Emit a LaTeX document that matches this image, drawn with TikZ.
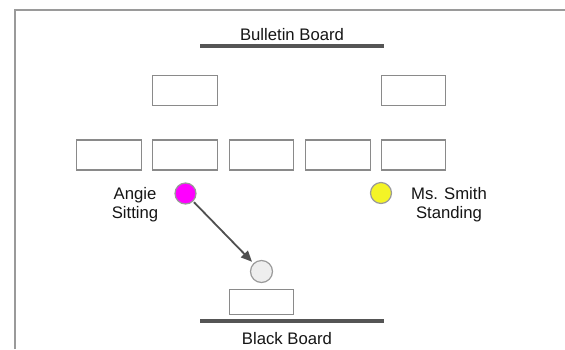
\documentclass[tikz,border=0pt]{standalone}
\usepackage{fontspec}
\setmainfont{Liberation Sans}
\usetikzlibrary{arrows.meta}
\definecolor{deskc}{HTML}{8A8A8A}
\definecolor{framec}{HTML}{9A9A9A}
\definecolor{boardc}{HTML}{555555}
\definecolor{txtc}{HTML}{151515}
\definecolor{magentac}{HTML}{FF00FF}
\definecolor{yellowc}{HTML}{F4F426}
\definecolor{grayfill}{HTML}{EEEEEE}
\definecolor{arrowc}{HTML}{505050}
\tikzset{
  desk/.style={draw=deskc, line width=1.4pt, fill=white, inner sep=0pt,
    minimum width=64.5pt, minimum height=30pt},
  person/.style={circle, draw=framec, line width=1.2pt, inner sep=0pt, minimum size=21pt},
  board/.style={draw=boardc, line width=3.2pt},
  lbl/.style={text=txtc, font=\fontsize{16.7}{19.5}\selectfont, align=center, inner sep=0pt},
  move/.style={draw=arrowc, line width=1.8pt, -{Triangle[length=11pt,width=9.5pt]}}
}
\begin{document}
\begin{tikzpicture}[x=1pt,y=-1pt]
\useasboundingbox (0,0) rectangle (565,349);
% frame
\draw[framec, line width=2.2pt] (15,349) -- (15,10) -- (565,10);
% bulletin board
\coordinate (bbL) at (200,46);
\coordinate (bbR) at (384,46);
\draw[board] (bbL) -- (bbR);
\node[lbl] (bbtext) at (292,35) {Bulletin Board};
% top desks
\node[desk] (t1) at (185,90.5) {};
\node[desk] (t2) at (413.5,90.5) {};
% row desks
\node[desk] (r1) at (109,155) {};
\node[desk] (r2) at (185,155) {};
\node[desk] (r3) at (261.5,155) {};
\node[desk] (r4) at (338,155) {};
\node[desk] (r5) at (413.5,155) {};
% people
\node[person, fill=magentac] (angie) at (185.5,193.5) {};
\node[person, fill=yellowc] (smith) at (381,193) {};
\node[person, fill=grayfill, minimum size=22pt] (dest) at (261.5,271.5) {};
\node[lbl] (angietext) at (135,204.5) {Angie\\Sitting};
\node[lbl] (smithtext) at (449,204.5) {Ms. Smith\\Standing};
% movement
\draw[move, shorten <=1pt, shorten >=2pt] (angie) -- (dest);
% bottom desk and black board
\node[desk, minimum height=25pt] (front) at (261.5,302) {};
\coordinate (kbL) at (200,321);
\coordinate (kbR) at (384,321);
\draw[board] (kbL) -- (kbR);
\node[lbl] (kbtext) at (287,339) {Black Board};
\end{tikzpicture}
\end{document}
